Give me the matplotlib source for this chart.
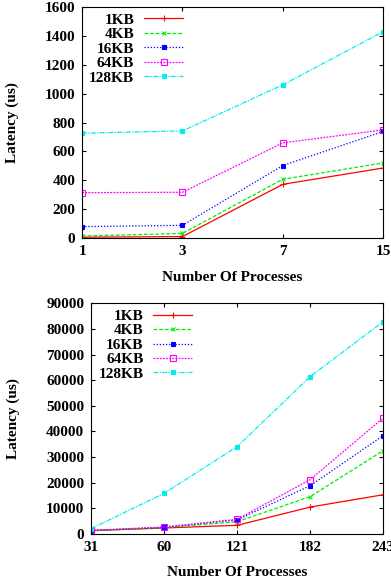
import matplotlib
matplotlib.use("Agg")
import matplotlib.pyplot as plt

plt.rcParams["font.family"] = ["Liberation Serif", "DejaVu Serif"]
plt.rcParams["font.weight"] = "bold"

# Small runs (top panel)
procs_small = ["1", "3", "7", "15"]
small_1kb = [6, 10, 372, 485]
small_4kb = [14, 32, 407, 520]
small_16kb = [79, 88, 502, 738]
small_64kb = [314, 317, 659, 749]
small_128kb = [726, 742, 1061, 1429]

# Large runs (bottom panel)
procs_large = ["31", "60", "121", "182", "243"]
large_1kb = [1300, 2340, 3380, 10500, 15300]
large_4kb = [1300, 2470, 4800, 14560, 32500]
large_16kb = [1350, 2600, 5460, 18850, 38360]
large_64kb = [1430, 2730, 5720, 21200, 45250]
large_128kb = [2080, 15860, 34070, 61380, 82830]

labels = ["1KB", "4KB", "16KB", "64KB", "128KB"]
styles = [
    dict(color="#ff0000", ls="-", marker="+", ms=4, mfc="#ff0000"),
    dict(color="#00ee00", ls=(0, (3, 1.5)), marker="x", ms=3.5),
    dict(color="#0000ff", ls=(0, (1, 1.5)), marker="s", ms=2.5),
    dict(color="#ff00ff", ls=(0, (1.5, 1)), marker="s", ms=4, mfc="none"),
    dict(color="#00eeee", ls=(0, (4, 1, 1, 1)), marker="s", ms=3.5),
]


def draw(ax, cats, series, ymax, ystep, ylab_x, xlab_y):
    xs = list(range(len(cats)))
    for vals, lab, st in zip(series, labels, styles):
        ax.plot(xs, vals, label=lab, lw=0.9, mew=0.8, **st)
    ax.set_xlim(0, len(cats) - 1)
    ax.set_ylim(0, ymax)
    ax.set_xticks(xs)
    ax.set_xticklabels(cats)
    ax.set_yticks(range(0, ymax + 1, ystep))
    ax.tick_params(direction="in", top=True, right=True, labelsize=11, length=3, pad=5)
    for lab in ax.get_xticklabels() + ax.get_yticklabels():
        lab.set_fontweight("bold")
    ax.set_xlabel("Number Of Processes", fontsize=11, fontweight="bold")
    ax.set_ylabel("Latency (us)", fontsize=11, fontweight="bold")
    ax.yaxis.set_label_coords(ylab_x, 0.5)
    ax.xaxis.set_label_coords(0.5, xlab_y)
    leg = ax.legend(loc="upper left", bbox_to_anchor=(-0.012, 1.02), frameon=False,
                    markerfirst=False, fontsize=11, handlelength=2.55,
                    labelspacing=0.05, borderaxespad=0.3, handletextpad=0.65)
    for t in leg.get_texts():
        t.set_ha("right")
        t.set_fontweight("bold")
    for sp in ax.spines.values():
        sp.set_linewidth(0.8)


fig = plt.figure(figsize=(3.91, 5.82), dpi=100)
ax1 = fig.add_axes([0.21, 0.591, 0.77, 0.397])
ax2 = fig.add_axes([0.233, 0.0825, 0.747, 0.3965])

draw(ax1, procs_small, [small_1kb, small_4kb, small_16kb, small_64kb, small_128kb],
     1600, 200, -0.21, -0.143)
draw(ax2, procs_large, [large_1kb, large_4kb, large_16kb, large_64kb, large_128kb],
     90000, 10000, -0.245, -0.139)

fig.savefig("out.png", dpi=100)
